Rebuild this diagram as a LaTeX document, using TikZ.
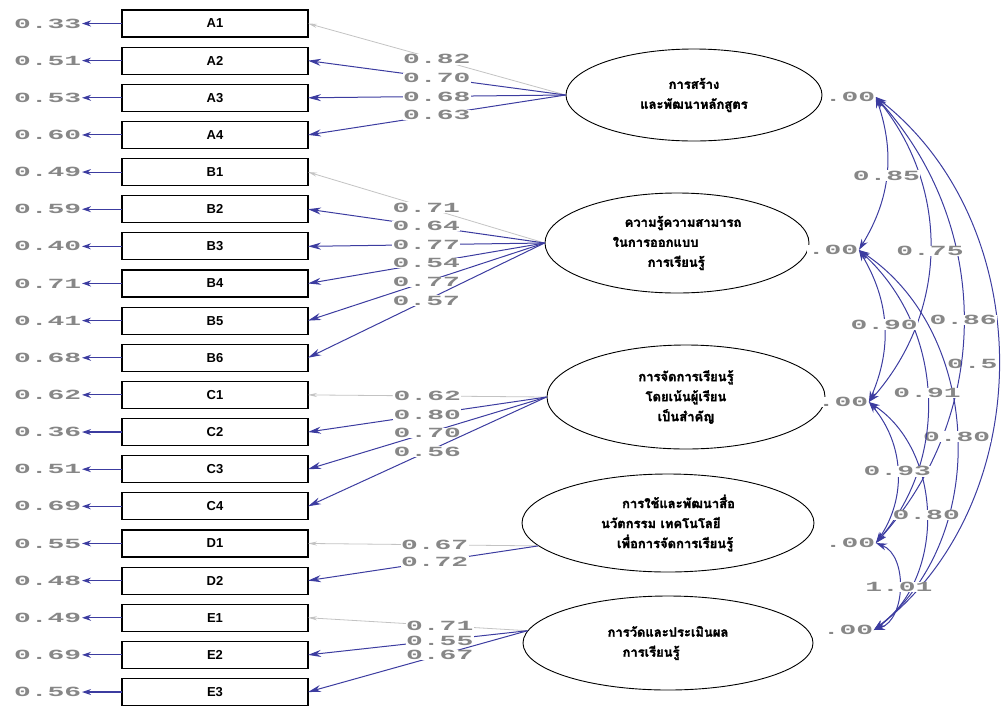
\documentclass[tikz,border=0pt]{standalone}
\usepackage{fontspec}
\setmainfont{Liberation Sans}
\newfontfamily\thaifont[Script=Thai, FakeBold=2]{Loma}
\newfontfamily\coeffont[FakeStretch=2.0]{Liberation Mono}
\usetikzlibrary{shapes.geometric, arrows.meta, positioning}

\definecolor{pathblue}{RGB}{60,60,160}
\definecolor{valgray}{RGB}{135,135,135}
\definecolor{fixgray}{RGB}{195,195,195}

\begin{document}
\begin{tikzpicture}[x=1pt, y=-1pt,
        item/.style={draw, line width=1.1pt, outer sep=0pt, inner sep=0pt, minimum width=186pt, minimum height=27pt, font=\bfseries\fontsize{13}{13}\selectfont},
        latent/.style={ellipse, draw, line width=0.9pt, fill=white, inner sep=0pt, align=center, font=\thaifont\bfseries\fontsize{13}{20}\selectfont},
        coef/.style={text=valgray, fill=white, inner sep=0.5pt, font=\coeffont\bfseries\fontsize{14}{14}\selectfont},
        errline/.style={pathblue, line width=1.1pt, -{Stealth[length=9pt, width=6pt]}},
        loadline/.style={pathblue, line width=1pt, -{Stealth[length=13pt, width=7pt]}},
        fixline/.style={fixgray, line width=0.8pt, -{Stealth[length=9pt, width=4pt]}},
        cov/.style={pathblue, line width=1pt, {Stealth[length=11pt, width=7pt]}-{Stealth[length=11pt, width=7pt]}},
        node distance=10.14pt
    ]
        \useasboundingbox (0,0) rectangle (1004,713);

        % observed variables
        \node[item] (A1) at (215,23.5) {A1};
        \node[item, below=of A1] (A2) {A2};
        \node[item, below=of A2] (A3) {A3};
        \node[item, below=of A3] (A4) {A4};
        \node[item, below=of A4] (B1) {B1};
        \node[item, below=of B1] (B2) {B2};
        \node[item, below=of B2] (B3) {B3};
        \node[item, below=of B3] (B4) {B4};
        \node[item, below=of B4] (B5) {B5};
        \node[item, below=of B5] (B6) {B6};
        \node[item, below=of B6] (C1) {C1};
        \node[item, below=of C1] (C2) {C2};
        \node[item, below=of C2] (C3) {C3};
        \node[item, below=of C3] (C4) {C4};
        \node[item, below=of C4] (D1) {D1};
        \node[item, below=of D1] (D2) {D2};
        \node[item, below=of D2] (E1) {E1};
        \node[item, below=of E1] (E2) {E2};
        \node[item, below=of E2] (E3) {E3};

        % error variances
        \node[coef, left=40pt of A1] (eA1) {0.33};
        \node[coef, left=40pt of A2] (eA2) {0.51};
        \node[coef, left=40pt of A3] (eA3) {0.53};
        \node[coef, left=40pt of A4] (eA4) {0.60};
        \node[coef, left=40pt of B1] (eB1) {0.49};
        \node[coef, left=40pt of B2] (eB2) {0.59};
        \node[coef, left=40pt of B3] (eB3) {0.40};
        \node[coef, left=40pt of B4] (eB4) {0.71};
        \node[coef, left=40pt of B5] (eB5) {0.41};
        \node[coef, left=40pt of B6] (eB6) {0.68};
        \node[coef, left=40pt of C1] (eC1) {0.62};
        \node[coef, left=40pt of C2] (eC2) {0.36};
        \node[coef, left=40pt of C3] (eC3) {0.51};
        \node[coef, left=40pt of C4] (eC4) {0.69};
        \node[coef, left=40pt of D1] (eD1) {0.55};
        \node[coef, left=40pt of D2] (eD2) {0.48};
        \node[coef, left=40pt of E1] (eE1) {0.49};
        \node[coef, left=40pt of E2] (eE2) {0.69};
        \node[coef, left=40pt of E3] (eE3) {0.56};

        \draw[errline] (A1) -- (eA1);
        \draw[errline] (A2) -- (eA2);
        \draw[errline] (A3) -- (eA3);
        \draw[errline] (A4) -- (eA4);
        \draw[errline] (B1) -- (eB1);
        \draw[errline] (B2) -- (eB2);
        \draw[errline] (B3) -- (eB3);
        \draw[errline] (B4) -- (eB4);
        \draw[errline] (B5) -- (eB5);
        \draw[errline] (B6) -- (eB6);
        \draw[errline] (C1) -- (eC1);
        \draw[errline] (C2) -- (eC2);
        \draw[errline] (C3) -- (eC3);
        \draw[errline] (C4) -- (eC4);
        \draw[errline] (D1) -- (eD1);
        \draw[errline] (D2) -- (eD2);
        \draw[errline] (E1) -- (eE1);
        \draw[errline] (E2) -- (eE2);
        \draw[errline] (E3) -- (eE3);

        % latent factors
        \node[latent, minimum width=256pt, minimum height=92pt] (F1) at (694,95) {การสร้าง\\และพัฒนาหลักสูตร};
        \node[latent, minimum width=264pt, minimum height=100pt, align=left] (F2) at (677,243) {\hspace*{12pt}ความรู้ความสามารถ\\ในการออกแบบ\\\hspace*{35pt}การเรียนรู้};
        \node[latent, minimum width=278pt, minimum height=104pt] (F3) at (686,397) {การจัดการเรียนรู้\\โดยเน้นผู้เรียน\\เป็นสำคัญ};
        \node[latent, minimum width=292pt, minimum height=98pt, align=left] (F4) at (668,523) {\hspace*{21pt}การใช้และพัฒนาสื่อ\\นวัตกรรม เทคโนโลยี\\\hspace*{16pt}เพื่อการจัดการเรียนรู้};
        \node[latent, minimum width=290pt, minimum height=94pt, align=left] (F5) at (668,643) {การวัดและประเมินผล\\\hspace*{15pt}การเรียนรู้};

        % loadings
        \draw[fixline] (F1.west) -- node[coef]{0.82} (A1.east);
        \draw[loadline] (F1.west) -- node[coef]{0.70} (A2.east);
        \draw[loadline] (F1.west) -- node[coef]{0.68} (A3.east);
        \draw[loadline] (F1.west) -- node[coef]{0.63} (A4.east);

        \draw[fixline] (F2.west) -- node[coef]{0.71} (B1.east);
        \draw[loadline] (F2.west) -- node[coef]{0.64} (B2.east);
        \draw[loadline] (F2.west) -- node[coef]{0.77} (B3.east);
        \draw[loadline] (F2.west) -- node[coef]{0.54} (B4.east);
        \draw[loadline] (F2.west) -- node[coef]{0.77} (B5.east);
        \draw[loadline] (F2.west) -- node[coef]{0.57} (B6.east);

        \draw[fixline] (F3.west) -- node[coef]{0.62} (C1.east);
        \draw[loadline] (F3.west) -- node[coef]{0.80} (C2.east);
        \draw[loadline] (F3.west) -- node[coef]{0.70} (C3.east);
        \draw[loadline] (F3.west) -- node[coef]{0.56} (C4.east);

        \draw[fixline] (F4.190) -- node[coef, pos=0.45]{0.67} (D1.east);
        \draw[loadline] (F4.190) -- node[coef, pos=0.45]{0.72} (D2.east);

        \draw[fixline] (F5.175) -- node[coef, pos=0.4]{0.71} (E1.east);
        \draw[loadline] (F5.175) -- node[coef, pos=0.4]{0.55} (E2.east);
        \draw[loadline] (F5.175) -- node[coef, pos=0.4]{0.67} (E3.east);

        % factor variances
        \node[coef] (v1) at (850,97) {.00};
        \node[coef] (v2) at (833,250) {.00};
        \node[coef] (v3) at (843,402) {.00};
        \node[coef] (v4) at (850,543) {.00};
        \node[coef] (v5) at (848,630) {.00};

        % correlations
        \draw[cov] (v1.east) to[bend left=52] node[coef, xshift=-26pt]{0.5} (v5.east);
        \draw[cov] (v1.east) to[bend left=42] node[coef]{0.86} (v4.east);
        \draw[cov] (v2.east) to[bend left=54] node[coef]{0.80} (v5.east);
        \draw[cov] (v1.east) to[bend left=40] node[coef]{0.75} (v3.east);
        \draw[cov] (v2.east) to[bend left=44] node[coef]{0.91} (v4.east);
        \draw[cov] (v3.east) to[bend left=55] node[coef]{0.80} (v5.east);
        \draw[cov] (v1.east) to[bend left=25] node[coef]{0.85} (v2.east);
        \draw[cov] (v2.east) to[bend left=27] node[coef]{0.90} (v3.east);
        \draw[cov] (v3.east) to[bend left=37] node[coef]{0.93} (v4.east);
        \draw[cov] (v4.east) to[bend left=70] node[coef]{1.01} (v5.east);
    \end{tikzpicture}
\end{document}
